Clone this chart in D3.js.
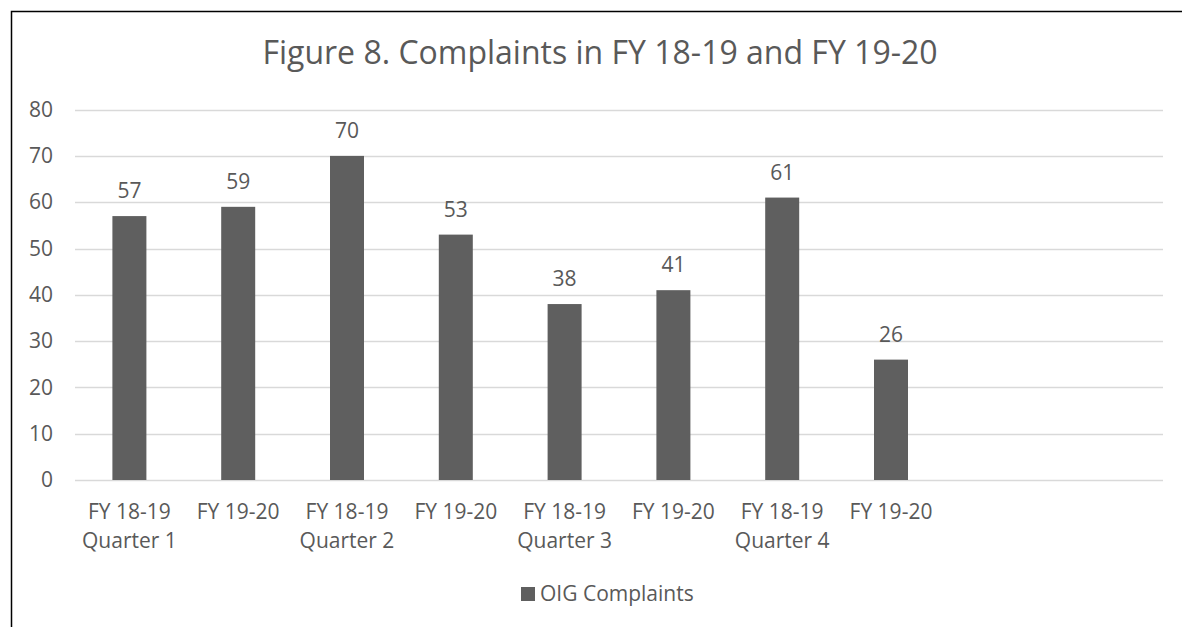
<!DOCTYPE html>
<html>
<head>
<meta charset="utf-8">
<script src="https://cdn.jsdelivr.net/npm/d3@7"></script>
<style>
  body { margin: 0; background: #fff; }
  text { font-family: "Open Sans", sans-serif; fill: #595959; }
</style>
</head>
<body>
<div id="chart"></div>
<script>
// data
var line1 = ['FY 18-19', 'FY 19-20', 'FY 18-19', 'FY 19-20', 'FY 18-19', 'FY 19-20', 'FY 18-19', 'FY 19-20', '', ''];
var line2 = ['Quarter 1', '', 'Quarter 2', '', 'Quarter 3', '', 'Quarter 4', '', '', ''];
var values = [57, 59, 70, 53, 38, 41, 61, 26];
var yTicks = [0, 10, 20, 30, 40, 50, 60, 70, 80];
var seriesName = 'OIG Complaints';
var title = 'Figure 8. Complaints in FY 18-19 and FY 19-20';

var W = 1182, H = 627;
var plot = { left: 75, right: 1163, top: 109.6, bottom: 480 };

var svg = d3.select('#chart').append('svg')
    .attr('width', W)
    .attr('height', H);

// outer frame (runs off the right / bottom edge)
svg.append('rect')
    .attr('x', 11.5)
    .attr('y', 11.5)
    .attr('width', W + 20)
    .attr('height', H + 20)
    .attr('fill', 'none')
    .attr('stroke', '#000')
    .attr('stroke-width', 1.5);

var x = d3.scaleBand()
    .domain(d3.range(line1.length))
    .range([plot.left, plot.right])
    .paddingInner(0.6875)
    .paddingOuter(0.6875 / 2);

var y = d3.scaleLinear()
    .domain([0, 80])
    .range([plot.bottom, plot.top]);

// gridlines
svg.append('g')
    .selectAll('line')
    .data(yTicks)
    .enter()
    .append('line')
    .attr('x1', plot.left)
    .attr('x2', plot.right)
    .attr('y1', d => Math.round(y(d)) + 0.5)
    .attr('y2', d => Math.round(y(d)) + 0.5)
    .attr('stroke', '#d9d9d9')
    .attr('stroke-width', 1.5);

// y axis labels
var yAxis = d3.axisLeft(y)
    .tickValues(yTicks)
    .tickSize(0)
    .tickPadding(0);

var yg = svg.append('g')
    .attr('transform', 'translate(53,0)')
    .call(yAxis);
yg.select('.domain').remove();
yg.selectAll('text')
    .attr('fill', '#595959')
    .style('font-size', '21px')
    .style('font-family', '"Open Sans", sans-serif');

// bars
svg.selectAll('.bar')
    .data(values)
    .enter()
    .append('rect')
    .attr('class', 'bar')
    .attr('x', (d, i) => x(i))
    .attr('y', d => y(d))
    .attr('width', x.bandwidth())
    .attr('height', d => y(0) - y(d))
    .attr('fill', '#5f5f5f');

// data labels
svg.selectAll('.value')
    .data(values)
    .enter()
    .append('text')
    .attr('class', 'value')
    .attr('x', (d, i) => x(i) + x.bandwidth() / 2)
    .attr('y', d => y(d) - 18)
    .attr('text-anchor', 'middle')
    .style('font-size', '21px')
    .text(d => d);

// category labels, two lines
var cats = svg.selectAll('.cat')
    .data(line1)
    .enter()
    .append('text')
    .attr('class', 'cat')
    .attr('text-anchor', 'middle')
    .style('font-size', '21px');

cats.append('tspan')
    .attr('x', (d, i) => x(i) + x.bandwidth() / 2)
    .attr('y', 519)
    .text(d => d);

cats.append('tspan')
    .attr('x', (d, i) => x(i) + x.bandwidth() / 2)
    .attr('y', 548)
    .text((d, i) => line2[i]);

// title
svg.append('text')
    .attr('x', 600)
    .attr('y', 64)
    .attr('text-anchor', 'middle')
    .style('font-size', '32px')
    .text(title);

// legend
var legend = svg.append('g');
legend.append('rect')
    .attr('x', 521)
    .attr('y', 587)
    .attr('width', 14)
    .attr('height', 14)
    .attr('fill', '#5f5f5f');
legend.append('text')
    .attr('x', 540)
    .attr('y', 601)
    .style('font-size', '21px')
    .text(seriesName);
</script>
</body>
</html>
